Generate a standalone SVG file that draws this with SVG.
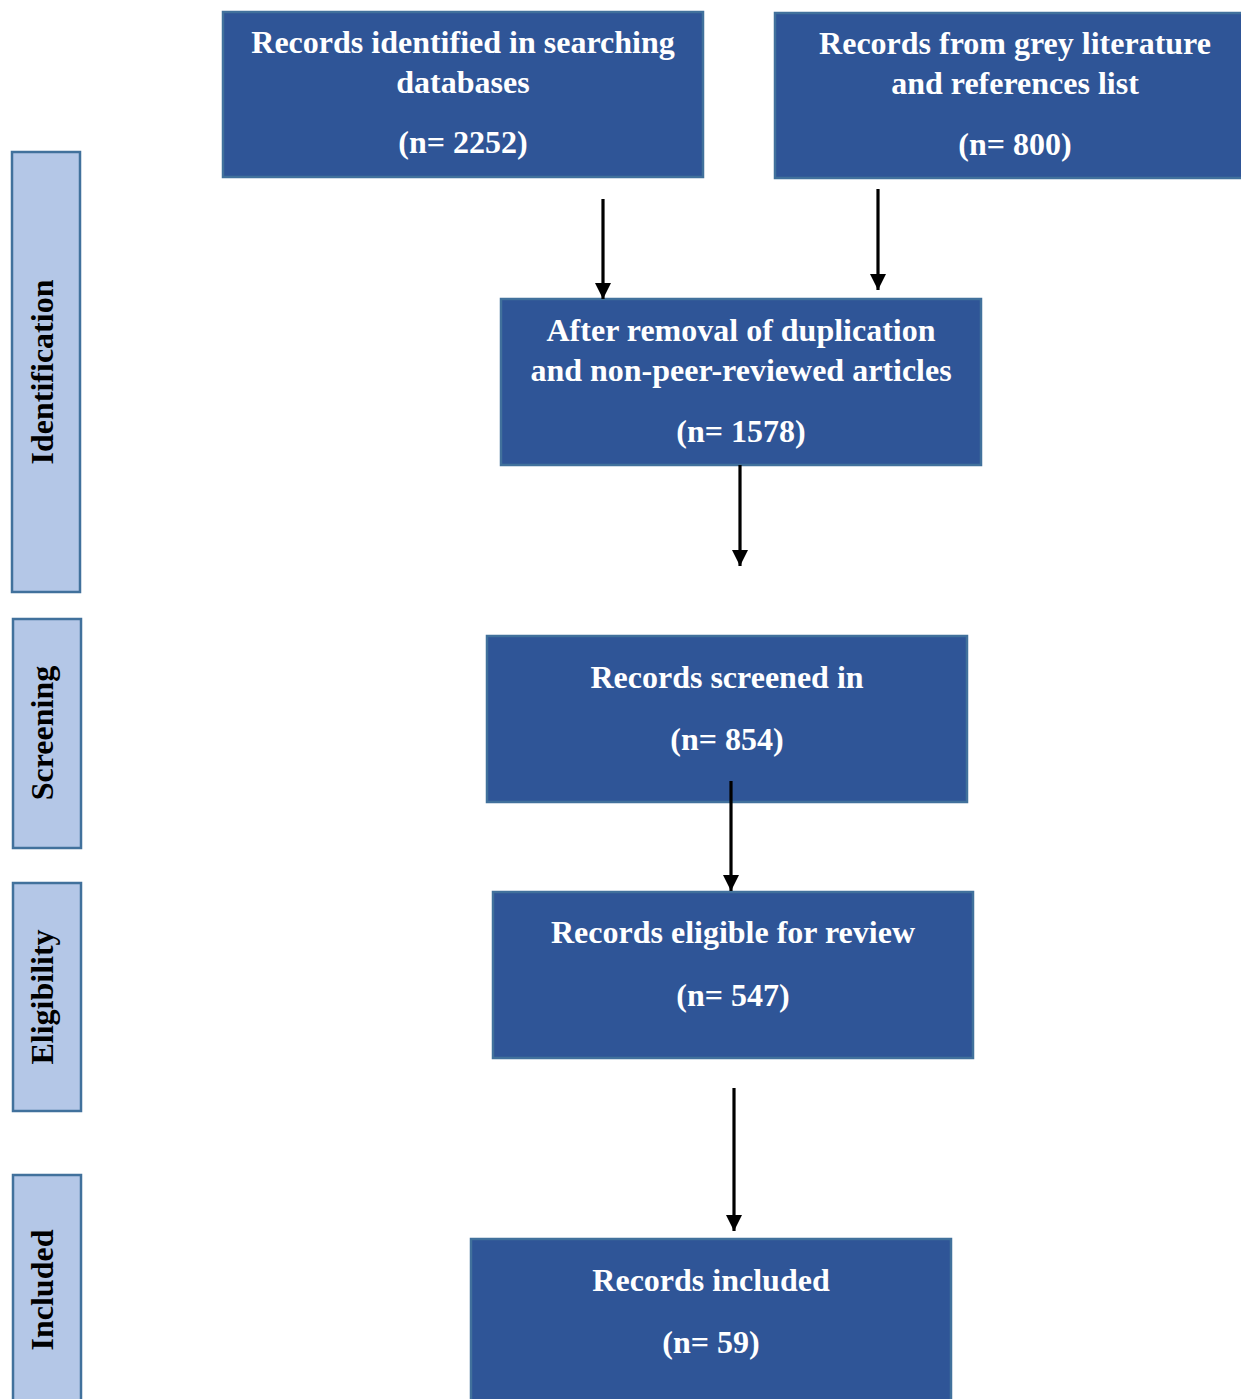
<svg xmlns="http://www.w3.org/2000/svg" width="1241" height="1399" viewBox="0 0 1241 1399">
<style>
.box{fill:#2F5597;stroke:#41719C;stroke-width:2.5}
.side{fill:#B4C7E7;stroke:#41719C;stroke-width:2.5}
.bt{font-family:"Liberation Serif","Times New Roman",serif;font-weight:bold;font-size:32px;fill:#FFFFFF;text-anchor:middle}
.st{font-family:"Liberation Serif","Times New Roman",serif;font-weight:bold;font-size:32px;fill:#000000;text-anchor:middle}
.conn{stroke:#000;stroke-width:3.2;fill:none;marker-end:url(#ah)}
</style>
<defs>
<marker id="ah" viewBox="0 0 10 10" refX="10" refY="5" markerUnits="userSpaceOnUse" markerWidth="16" markerHeight="16" orient="auto">
<path d="M0,0 L10,5 L0,10 Z" fill="#000"/>
</marker>
</defs>
<rect width="1241" height="1399" fill="#FFFFFF"/>
<g id="side-identification">
<rect class="side" x="12" y="152" width="68" height="440"/>
<text class="st" transform="translate(53,372) rotate(-90)">Identification</text>
</g>
<g id="side-screening">
<rect class="side" x="13" y="619" width="68" height="229"/>
<text class="st" transform="translate(53,733) rotate(-90)">Screening</text>
</g>
<g id="side-eligibility">
<rect class="side" x="13" y="883" width="68" height="228"/>
<text class="st" transform="translate(53,997) rotate(-90)">Eligibility</text>
</g>
<g id="side-included">
<rect class="side" x="13" y="1175" width="68" height="240"/>
<text class="st" transform="translate(53,1290) rotate(-90)">Included</text>
</g>
<g id="box-databases">
<rect class="box" x="223" y="12" width="480" height="165"/>
<text class="bt" x="463" y="53">Records identified in searching</text>
<text class="bt" x="463" y="93">databases</text>
<text class="bt" x="463" y="153">(n= 2252)</text>
</g>
<g id="box-grey">
<rect class="box" x="775" y="13" width="480" height="165"/>
<text class="bt" x="1015" y="54">Records from grey literature</text>
<text class="bt" x="1015" y="94">and references list</text>
<text class="bt" x="1015" y="155">(n= 800)</text>
</g>
<g id="box-dedup">
<rect class="box" x="501" y="299" width="480" height="166"/>
<text class="bt" x="741" y="341">After removal of duplication</text>
<text class="bt" x="741" y="381">and non-peer-reviewed articles</text>
<text class="bt" x="741" y="442">(n= 1578)</text>
</g>
<g id="box-screened">
<rect class="box" x="487" y="636" width="480" height="166"/>
<text class="bt" x="727" y="688">Records screened in</text>
<text class="bt" x="727" y="750">(n= 854)</text>
</g>
<g id="box-eligible">
<rect class="box" x="493" y="892" width="480" height="166"/>
<text class="bt" x="733" y="943">Records eligible for review</text>
<text class="bt" x="733" y="1006">(n= 547)</text>
</g>
<g id="box-included">
<rect class="box" x="471" y="1239" width="480" height="180"/>
<text class="bt" x="711" y="1291">Records included</text>
<text class="bt" x="711" y="1353">(n= 59)</text>
</g>
<g id="connectors">
<line class="conn" x1="603" y1="199" x2="603" y2="299"/>
<line class="conn" x1="878" y1="189" x2="878" y2="290"/>
<line class="conn" x1="740" y1="465" x2="740" y2="566"/>
<line class="conn" x1="731" y1="781" x2="731" y2="891"/>
<line class="conn" x1="734" y1="1088" x2="734" y2="1231"/>
</g>
</svg>
